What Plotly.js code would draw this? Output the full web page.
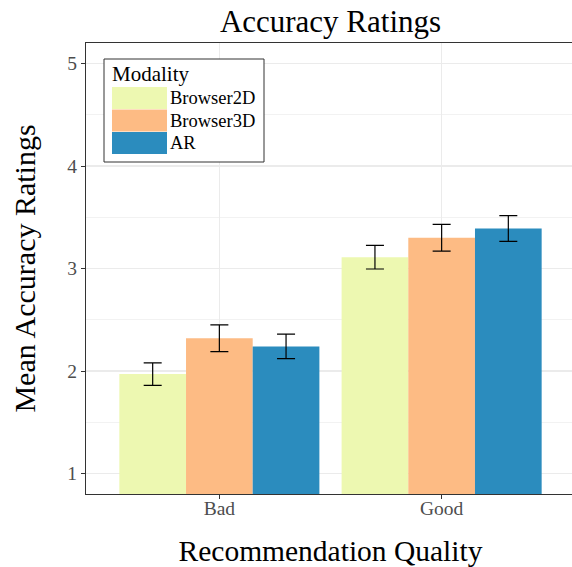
<!DOCTYPE html>
<html>
<head>
<meta charset="utf-8">
<script src="https://cdn.plot.ly/plotly-3.0.1.min.js"></script>
<style>
html,body{margin:0;padding:0;overflow:hidden;background:#fff;}
#chart{width:575px;height:567px;}
</style>
</head>
<body>
<div id="chart"></div>
<script>
var categories = ["Bad", "Good"];
var seriesNames = ["Browser2D", "Browser3D", "AR"];
var browser2D = [1.97, 3.11];
var browser3D = [2.32, 3.30];
var ar = [2.24, 3.39];
var browser2DErr = [0.11, 0.115];
var browser3DErr = [0.13, 0.13];
var arErr = [0.12, 0.125];
var colors = ["#EDF8B1", "#FDBB84", "#2B8CBE"];
var yTicks = [1, 2, 3, 4, 5];

var values = [browser2D, browser3D, ar];
var errs = [browser2DErr, browser3DErr, arErr];

var W = 575, H = 567;
var M = {l: 86, r: 0, t: 43, b: 73};
var PW = W - M.l - M.r, PH = H - M.t - M.b;
function px(x) { return (x - M.l) / PW; }
function py(y) { return (M.t + PH - y) / PH; }

var FONT = "Liberation Serif, Times New Roman, serif";

var traces = seriesNames.map(function (name, i) {
  return {
    type: "bar",
    name: name,
    x: [1, 2],
    y: values[i],
    base: 0,
    marker: {color: colors[i], line: {width: 0}},
    error_y: {type: "data", array: errs[i], visible: true, color: "#000000", thickness: 1.2, width: 9},
    showlegend: false,
    hoverinfo: "x+y"
  };
});

var shapes = [];
var annotations = [];
// legend box
shapes.push({type: "rect", xref: "paper", yref: "paper", x0: px(104), x1: px(264), y0: py(162), y1: py(59),
  line: {color: "#333333", width: 1}, fillcolor: "#ffffff", layer: "above"});
annotations.push({xref: "paper", yref: "paper", x: px(110), y: py(74), xanchor: "left", yanchor: "middle",
  text: "Modality", showarrow: false, font: {family: FONT, size: 21, color: "#000"}});
var rowTop = [87, 109.5, 132];
seriesNames.forEach(function (name, i) {
  shapes.push({type: "rect", xref: "paper", yref: "paper", x0: px(112), x1: px(167),
    y0: py(rowTop[i] + 22), y1: py(rowTop[i]), line: {width: 0}, fillcolor: colors[i], layer: "above"});
  annotations.push({xref: "paper", yref: "paper", x: px(168), y: py(rowTop[i] + 11), xanchor: "left", yanchor: "middle",
    text: name, showarrow: false, font: {family: FONT, size: 18.5, color: "#000"}});
});

var layout = {
  width: W, height: H,
  margin: M,
  paper_bgcolor: "#ffffff",
  plot_bgcolor: "#ffffff",
  font: {family: FONT, color: "#000"},
  title: {text: "Accuracy Ratings", font: {family: FONT, size: 31, color: "#000"},
    x: 0.5, xref: "paper", y: 1 - 21 / H, yref: "container", yanchor: "middle"},
  barmode: "group",
  bargap: 0.1,
  bargroupgap: 0,
  xaxis: {
    range: [0.4, 2.6],
    tickvals: [1, 2],
    ticktext: categories,
    tickfont: {family: FONT, size: 19.5, color: "#4d4d4d"},
    ticks: "outside", ticklen: 4, tickcolor: "#333333", tickwidth: 1,
    ticklabelstandoff: -8,
    showgrid: true, gridcolor: "#ebebeb", gridwidth: 1.2,
    showline: true, linecolor: "#333333", linewidth: 1.2, mirror: true,
    zeroline: false,
    title: {text: "Recommendation Quality", font: {family: FONT, size: 29.5, color: "#000"}, standoff: 32}
  },
  yaxis: {
    range: [0.8, 5.2],
    tickvals: yTicks,
    tickfont: {family: FONT, size: 19.5, color: "#4d4d4d"},
    ticks: "outside", ticklen: 4, tickcolor: "#333333", tickwidth: 1,
    showgrid: true, gridcolor: "#ebebeb", gridwidth: 1.2,
    minor: {dtick: 0.5, tick0: 0.5, showgrid: true, gridcolor: "#f2f2f2", gridwidth: 1, ticks: ""},
    showline: true, linecolor: "#333333", linewidth: 1.2, mirror: true,
    zeroline: false,
    title: {text: "Mean Accuracy Ratings", font: {family: FONT, size: 30, color: "#000"}, standoff: 22}
  },
  shapes: shapes,
  annotations: annotations,
  showlegend: false
};

Plotly.newPlot("chart", traces, layout, {displayModeBar: false, staticPlot: true});
</script>
</body>
</html>
